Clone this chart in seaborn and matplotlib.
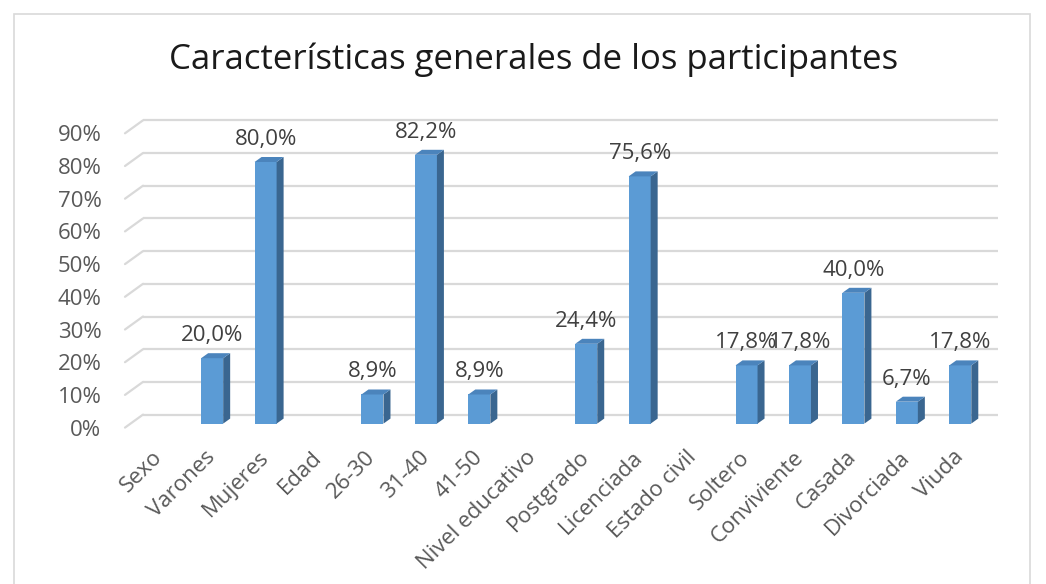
import numpy as np
import pandas as pd
import seaborn as sns
import matplotlib
matplotlib.use("Agg")
import matplotlib.pyplot as plt
from matplotlib.patches import Polygon, Rectangle
from matplotlib.transforms import ScaledTranslation

# ---- data ----
categories = ["Sexo", "Varones", "Mujeres", "Edad", "26-30", "31-40", "41-50",
              "Nivel educativo", "Postgrado", "Licenciada", "Estado civil",
              "Soltero", "Conviviente", "Casada", "Divorciada", "Viuda"]
values = [np.nan, 20.0, 80.0, np.nan, 8.9, 82.2, 8.9,
          np.nan, 24.4, 75.6, np.nan,
          17.8, 17.8, 40.0, 6.7, 17.8]
y_ticks = [0, 10, 20, 30, 40, 50, 60, 70, 80, 90]
y_tick_labels = [f"{t}%" for t in y_ticks]
title = "Características generales de los participantes"

sns.set_theme(style="white")
plt.rcParams["font.family"] = ["Open Sans", "DejaVu Sans"]

W, H = 1046, 584
fig = plt.figure(figsize=(W / 100, H / 100), dpi=100)
fig.patch.set_facecolor("white")

# chart frame
fig.patches.append(Rectangle((14 / W, -0.05), 1016 / W, (H - 14) / H + 0.05,
                             transform=fig.transFigure, fill=False,
                             edgecolor="#d9d9d9", lw=1.2))

left_px, right_px = 132, 987
y0_px, y90_px = 423.6, 129.3
ax = fig.add_axes([left_px / W, (H - y0_px) / H,
                   (right_px - left_px) / W, (y0_px - y90_px) / H])

df = pd.DataFrame({"cat": categories, "val": values})
bar_w = 22 / 53.4
sns.barplot(data=df, x="cat", y="val", order=categories, color="#5B9BD5",
            saturation=1, width=bar_w, errorbar=None, ax=ax, zorder=3,
            edgecolor="none")

ax.set_xlim(-0.5, len(categories) - 0.5)
ax.set_ylim(0, 90)
ax.set_xlabel("")
ax.set_ylabel("")
for s in ax.spines.values():
    s.set_visible(False)
ax.set_facecolor("none")

# pixel -> data conversion
px_x = (right_px - left_px) / len(categories)   # px per x unit
px_y = (y0_px - y90_px) / 90.0                   # px per y unit
def dxp(p):
    return p / px_x
def dyp(p):
    return p / px_y

# back-wall gridlines with 3D floor/wall offset
xl0, xl1 = ax.get_xlim()
for t in y_ticks:
    ax.plot([xl0 + dxp(11), xl1 + dxp(11)], [t + dyp(9), t + dyp(9)],
            color="#d9d9d9", lw=1.6, zorder=1, clip_on=False,
            solid_capstyle="butt")
    ax.plot([xl0 - dxp(7), xl0 + dxp(11)], [t - dyp(4), t + dyp(9)],
            color="#d9d9d9", lw=1.6, zorder=1, clip_on=False)

# 3D side/top faces and value labels
depth_x, depth_y = dxp(7), dyp(5)
for i, (cat, v) in enumerate(zip(categories, values)):
    if np.isnan(v):
        continue
    xl = i - bar_w / 2
    xr = i + bar_w / 2
    side = Polygon([[xr, 0], [xr + depth_x, depth_y], [xr + depth_x, v + depth_y], [xr, v]],
                   closed=True, facecolor="#3A6690", edgecolor="none", zorder=3, clip_on=False)
    top = Polygon([[xl, v], [xl + depth_x, v + depth_y], [xr + depth_x, v + depth_y], [xr, v]],
                  closed=True, facecolor="#4B84BC", edgecolor="none", zorder=3, clip_on=False)
    ax.add_patch(side)
    ax.add_patch(top)
    ax.annotate(f"{v:.1f}%".replace(".", ","), xy=(i, v), xytext=(0, 12),
                textcoords="offset pixels", ha="center", va="bottom",
                fontsize=16, color="#404040", zorder=5, annotation_clip=False)

ax.set_yticks(y_ticks)
ax.set_yticklabels(y_tick_labels)
ax.tick_params(axis="y", length=0, pad=22, labelsize=16, labelcolor="#595959")
ax.tick_params(axis="x", length=0, pad=22, labelsize=16, labelcolor="#595959")
for lab in ax.get_yticklabels():
    lab.set_transform(lab.get_transform() + ScaledTranslation(0, -0.04, fig.dpi_scale_trans))
for lab in ax.get_xticklabels():
    lab.set_rotation(45)
    lab.set_ha("right")
    lab.set_va("center")
    lab.set_rotation_mode("anchor")

fig.text(534 / W, 1 - 60 / H, title, ha="center", va="center",
         fontsize=25, color="#1a1a1a")

fig.savefig("out.png", dpi=100, facecolor="white")
